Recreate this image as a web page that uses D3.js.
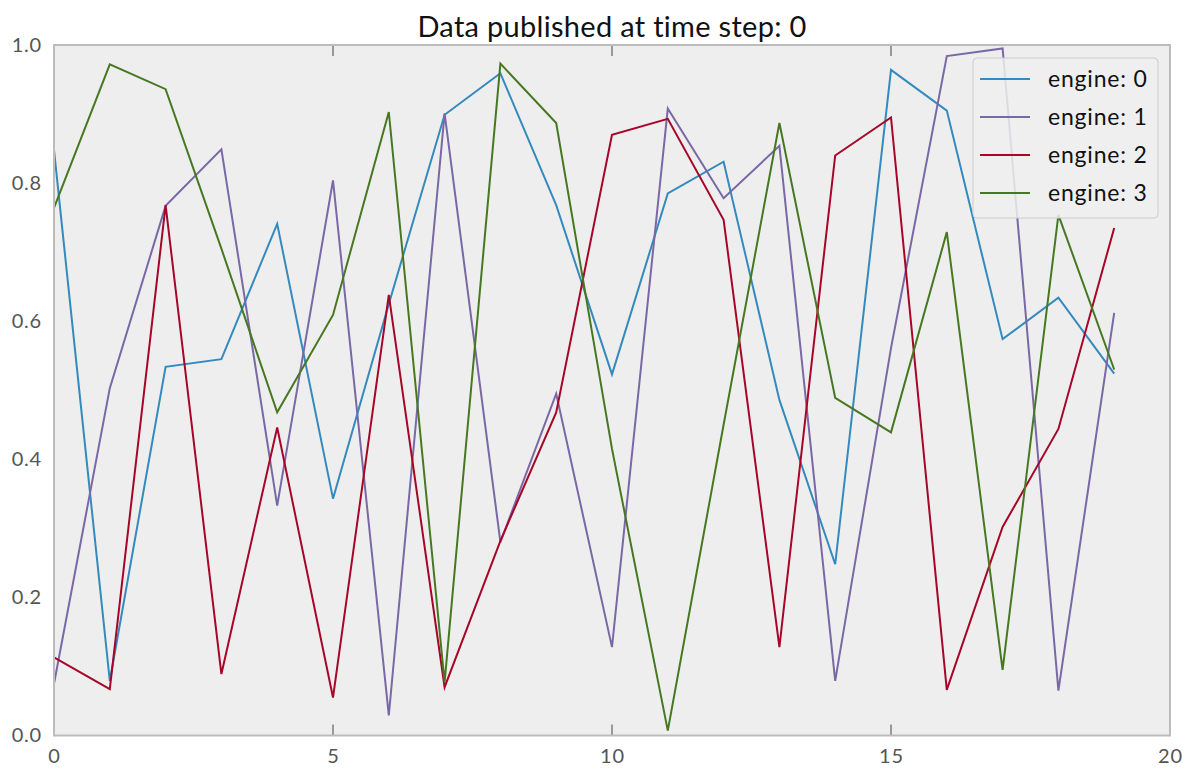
<!DOCTYPE html>
<html>
<head>
<meta charset="utf-8">
<script src="https://cdn.jsdelivr.net/npm/d3@7"></script>
<style>
  body { margin: 0; background: #fff; font-family: Lato, "Open Sans", sans-serif; }
</style>
</head>
<body>
<script>
// time steps 0..19
var steps = d3.range(0, 20);
var engines = ["engine: 0", "engine: 1", "engine: 2", "engine: 3"];
var colors = ["#348ABD", "#7A68A6", "#A60628", "#467821"];

// values
var engine0 = [0.848, 0.079, 0.534, 0.545, 0.741, 0.343, 0.625, 0.899, 0.959, 0.768,
               0.523, 0.785, 0.831, 0.486, 0.248, 0.964, 0.905, 0.574, 0.634, 0.524];
var engine1 = [0.075, 0.503, 0.767, 0.849, 0.333, 0.804, 0.029, 0.901, 0.280, 0.495,
               0.128, 0.908, 0.778, 0.854, 0.079, 0.561, 0.984, 0.995, 0.065, 0.612];
var engine2 = [0.113, 0.067, 0.768, 0.089, 0.446, 0.055, 0.638, 0.070, 0.282, 0.468,
               0.870, 0.893, 0.747, 0.128, 0.840, 0.895, 0.066, 0.302, 0.444, 0.735];
var engine3 = [0.764, 0.972, 0.936, 0.705, 0.468, 0.609, 0.903, 0.077, 0.973, 0.887,
               0.415, 0.007, 0.450, 0.887, 0.489, 0.439, 0.729, 0.095, 0.754, 0.530];

var xTicks = [0, 5, 10, 15, 20];
var yTicks = [0, 0.2, 0.4, 0.6, 0.8, 1.0];

var series = [engine0, engine1, engine2, engine3];

const w = 1195;
const h = 784;
const padL = 54, padR = 1170, padT = 45, padB = 735.5;

const xScale = d3.scaleLinear().domain([0, 20]).range([padL, padR]);
const yScale = d3.scaleLinear().domain([0, 1]).range([padB, padT]);

const svg = d3.select("body").append("svg")
              .attr("width", w)
              .attr("height", h);

// plot background
svg.append("rect")
   .attr("x", padL).attr("y", padT)
   .attr("width", padR - padL).attr("height", padB - padT)
   .attr("fill", "#eeeeee");

// title
svg.append("text")
   .attr("x", (padL + padR) / 2)
   .attr("y", 37)
   .attr("text-anchor", "middle")
   .attr("font-size", 29)
   .attr("letter-spacing", 0.3)
   .attr("fill", "#111")
   .text("Data published at time step: 0");

// lines
const line = d3.line()
               .x((d, i) => xScale(steps[i]))
               .y(d => yScale(d));

svg.selectAll("path.series")
   .data(series)
   .enter()
   .append("path")
   .attr("class", "series")
   .attr("d", d => line(d))
   .attr("fill", "none")
   .attr("stroke", (d, i) => colors[i])
   .attr("stroke-width", 2)
   .attr("stroke-linejoin", "miter");

// axes
const xAxis = d3.axisBottom(xScale).tickValues(xTicks).tickSize(0).tickPadding(13);
const yAxis = d3.axisLeft(yScale).tickValues(yTicks).tickSize(0).tickPadding(12)
                .tickFormat(d3.format(".1f"));

const gx = svg.append("g")
   .attr("transform", "translate(0," + padB + ")")
   .call(xAxis);
const gy = svg.append("g")
   .attr("transform", "translate(" + padL + ",0)")
   .call(yAxis);

[gx, gy].forEach(function(g){
  g.select(".domain").remove();
  g.selectAll("text")
   .attr("font-family", "Lato, sans-serif")
   .attr("font-size", 20)
   .attr("letter-spacing", 0.8)
   .attr("fill", "#555");
});

// inner tick marks on top and bottom for the middle x ticks
var innerTicks = xTicks.filter(d => d > 0 && d < 20);
svg.selectAll("line.tickb")
   .data(innerTicks).enter().append("line")
   .attr("x1", d => xScale(d)).attr("x2", d => xScale(d))
   .attr("y1", padB).attr("y2", padB - 11)
   .attr("stroke", "#444").attr("stroke-width", 1);
svg.selectAll("line.tickt")
   .data(innerTicks).enter().append("line")
   .attr("x1", d => xScale(d)).attr("x2", d => xScale(d))
   .attr("y1", padT).attr("y2", padT + 11)
   .attr("stroke", "#444").attr("stroke-width", 1);

// frame
svg.append("rect")
   .attr("x", padL).attr("y", padT)
   .attr("width", padR - padL).attr("height", padB - padT)
   .attr("fill", "none")
   .attr("stroke", "#bcbcbc")
   .attr("stroke-width", 2);

// legend
const legend = svg.append("g").attr("transform", "translate(973,58)");
legend.append("rect")
   .attr("width", 185).attr("height", 160)
   .attr("rx", 4)
   .attr("fill", "#eeeeee").attr("fill-opacity", 0.85)
   .attr("stroke", "#cccccc");

const items = legend.selectAll("g.item")
   .data(engines).enter().append("g")
   .attr("class", "item")
   .attr("transform", (d, i) => "translate(0," + (21 + i * 38) + ")");
items.append("line")
   .attr("x1", 7).attr("x2", 57)
   .attr("stroke", (d, i) => colors[i])
   .attr("stroke-width", 2);
items.append("text")
   .attr("x", 75).attr("dy", "0.35em")
   .attr("font-size", 23)
   .attr("letter-spacing", 0.8)
   .attr("fill", "#111")
   .text(d => d);
</script>
</body>
</html>
